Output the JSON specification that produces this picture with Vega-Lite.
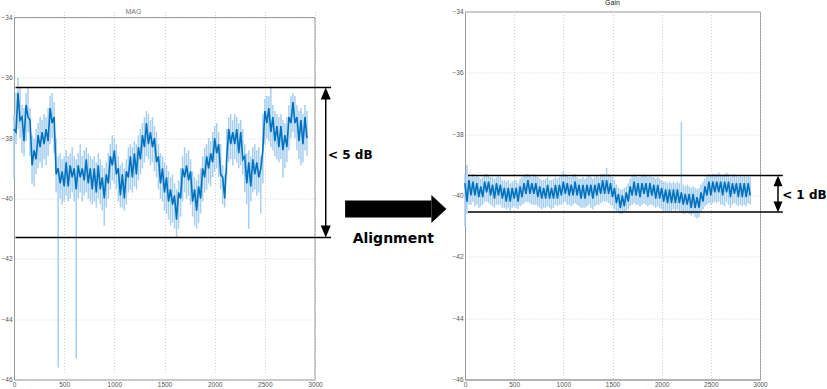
{
"$schema":"https://vega.github.io/schema/vega-lite/v6.json",
"background":"white",
"padding":{"left":0,"top":-2.5,"right":0,"bottom":0},
"spacing":150,
"bounds":"flush",
"config":{
"view":{"stroke":"#9a9a9a","strokeWidth":1},
"axis":{"labelFont":"Liberation Sans","labelFontSize":6.5,"labelColor":"#555","domainColor":"#9a9a9a","ticks":false,"gridColor":"#c4c4c4","gridDash":[1,2],"gridWidth":0.8,"labelPadding":2,"format":"d"},
"title":{"font":"Liberation Sans","fontSize":7,"fontWeight":"normal"}
},
"datasets":{
"mag":[
{"x":0,"v":-37.7,"lo":-39.3,"hi":-37.2},{"x":20,"v":-37.8,"lo":-38.2,"hi":-36.5},{"x":40,"v":-36.5,"lo":-37.7,"hi":-36.0},{"x":60,"v":-37.4,"lo":-38.0,"hi":-36.3},{"x":80,"v":-37.3,"lo":-38.5,"hi":-36.9},{"x":100,"v":-38.1,"lo":-38.6,"hi":-37.0},{"x":120,"v":-36.9,"lo":-38.1,"hi":-36.5},{"x":140,"v":-37.3,"lo":-37.8,"hi":-36.3},{"x":160,"v":-37.4,"lo":-38.6,"hi":-37.0},{"x":180,"v":-38.9,"lo":-39.5,"hi":-37.9},
{"x":200,"v":-38.4,"lo":-39.6,"hi":-38.0},{"x":220,"v":-38.7,"lo":-39.2,"hi":-37.7},{"x":240,"v":-37.9,"lo":-39.0,"hi":-37.5},{"x":260,"v":-38.3,"lo":-38.8,"hi":-37.3},{"x":280,"v":-37.8,"lo":-39.0,"hi":-37.4},{"x":300,"v":-38.2,"lo":-38.7,"hi":-37.2},{"x":320,"v":-37.7,"lo":-38.9,"hi":-37.3},{"x":340,"v":-38.1,"lo":-38.6,"hi":-37.0},{"x":360,"v":-37.0,"lo":-38.2,"hi":-36.6},{"x":380,"v":-37.5,"lo":-38.0,"hi":-36.5},
{"x":400,"v":-37.3,"lo":-38.5,"hi":-36.8},{"x":420,"v":-39.2,"lo":-39.8,"hi":-38.0},{"x":440,"v":-39.0,"lo":-45.6,"hi":-38.6},{"x":460,"v":-39.5,"lo":-40.0,"hi":-38.5},{"x":480,"v":-39.1,"lo":-40.2,"hi":-38.7},{"x":500,"v":-39.6,"lo":-40.1,"hi":-38.6},{"x":520,"v":-38.8,"lo":-39.9,"hi":-38.4},{"x":540,"v":-39.6,"lo":-40.1,"hi":-38.6},{"x":560,"v":-38.9,"lo":-40.0,"hi":-38.5},{"x":580,"v":-39.3,"lo":-39.8,"hi":-38.3},
{"x":600,"v":-39.0,"lo":-40.1,"hi":-38.6},{"x":620,"v":-39.7,"lo":-45.3,"hi":-38.7},{"x":640,"v":-38.9,"lo":-40.0,"hi":-38.5},{"x":660,"v":-39.3,"lo":-39.8,"hi":-38.2},{"x":680,"v":-39.0,"lo":-40.1,"hi":-38.6},{"x":700,"v":-39.4,"lo":-39.9,"hi":-38.4},{"x":720,"v":-38.7,"lo":-39.8,"hi":-38.3},{"x":740,"v":-39.5,"lo":-40.0,"hi":-38.5},{"x":760,"v":-39.0,"lo":-40.1,"hi":-38.6},{"x":780,"v":-39.7,"lo":-40.2,"hi":-38.7},
{"x":800,"v":-39.0,"lo":-40.1,"hi":-38.6},{"x":820,"v":-39.8,"lo":-40.3,"hi":-38.8},{"x":840,"v":-38.9,"lo":-40.0,"hi":-38.5},{"x":860,"v":-39.7,"lo":-40.2,"hi":-38.7},{"x":880,"v":-39.3,"lo":-40.4,"hi":-38.9},{"x":900,"v":-40.0,"lo":-40.9,"hi":-39.0},{"x":920,"v":-39.2,"lo":-40.3,"hi":-38.8},{"x":940,"v":-39.5,"lo":-40.0,"hi":-38.5},{"x":960,"v":-38.6,"lo":-39.7,"hi":-38.2},{"x":980,"v":-38.9,"lo":-39.4,"hi":-37.9},
{"x":1000,"v":-38.4,"lo":-39.5,"hi":-38.0},{"x":1020,"v":-39.2,"lo":-39.7,"hi":-38.2},{"x":1040,"v":-39.0,"lo":-40.1,"hi":-38.6},{"x":1060,"v":-39.9,"lo":-40.3,"hi":-38.9},{"x":1080,"v":-39.2,"lo":-40.3,"hi":-38.8},{"x":1100,"v":-40.0,"lo":-40.4,"hi":-39.0},{"x":1120,"v":-39.1,"lo":-40.2,"hi":-38.7},{"x":1140,"v":-39.3,"lo":-39.8,"hi":-38.3},{"x":1160,"v":-38.6,"lo":-39.7,"hi":-38.2},{"x":1180,"v":-39.3,"lo":-39.8,"hi":-38.3},
{"x":1200,"v":-38.5,"lo":-39.6,"hi":-38.1},{"x":1220,"v":-39.2,"lo":-39.7,"hi":-38.2},{"x":1240,"v":-38.3,"lo":-39.4,"hi":-37.9},{"x":1260,"v":-38.7,"lo":-39.2,"hi":-37.7},{"x":1280,"v":-37.9,"lo":-39.0,"hi":-37.5},{"x":1300,"v":-38.3,"lo":-38.8,"hi":-37.3},{"x":1320,"v":-37.5,"lo":-38.6,"hi":-37.1},{"x":1340,"v":-38.2,"lo":-38.7,"hi":-37.2},{"x":1360,"v":-37.8,"lo":-38.9,"hi":-37.4},{"x":1380,"v":-38.3,"lo":-38.8,"hi":-37.3},
{"x":1400,"v":-38.0,"lo":-39.1,"hi":-37.6},{"x":1420,"v":-38.8,"lo":-39.3,"hi":-37.8},{"x":1440,"v":-38.6,"lo":-39.7,"hi":-38.2},{"x":1460,"v":-39.5,"lo":-40.0,"hi":-38.5},{"x":1480,"v":-39.0,"lo":-40.1,"hi":-38.6},{"x":1500,"v":-39.8,"lo":-40.4,"hi":-38.8},{"x":1520,"v":-39.3,"lo":-40.5,"hi":-38.9},{"x":1540,"v":-40.1,"lo":-40.7,"hi":-39.1},{"x":1560,"v":-39.7,"lo":-40.9,"hi":-39.3},{"x":1580,"v":-40.2,"lo":-40.8,"hi":-39.2},
{"x":1600,"v":-39.9,"lo":-41.0,"hi":-39.5},{"x":1620,"v":-40.7,"lo":-41.3,"hi":-39.7},{"x":1640,"v":-39.8,"lo":-41.0,"hi":-39.4},{"x":1660,"v":-40.0,"lo":-40.6,"hi":-39.0},{"x":1680,"v":-39.0,"lo":-40.1,"hi":-38.6},{"x":1700,"v":-39.3,"lo":-39.8,"hi":-38.3},{"x":1720,"v":-38.9,"lo":-40.0,"hi":-38.5},{"x":1740,"v":-39.4,"lo":-39.9,"hi":-38.4},{"x":1760,"v":-39.1,"lo":-40.2,"hi":-38.7},{"x":1780,"v":-40.1,"lo":-40.6,"hi":-39.1},
{"x":1800,"v":-39.7,"lo":-40.9,"hi":-39.3},{"x":1820,"v":-40.4,"lo":-41.0,"hi":-39.4},{"x":1840,"v":-39.6,"lo":-40.8,"hi":-39.2},{"x":1860,"v":-40.0,"lo":-40.5,"hi":-39.0},{"x":1880,"v":-39.0,"lo":-40.1,"hi":-38.6},{"x":1900,"v":-39.3,"lo":-39.8,"hi":-38.3},{"x":1920,"v":-38.6,"lo":-39.7,"hi":-38.2},{"x":1940,"v":-39.0,"lo":-39.5,"hi":-38.0},{"x":1960,"v":-38.5,"lo":-39.6,"hi":-38.1},{"x":1980,"v":-38.8,"lo":-39.3,"hi":-37.8},
{"x":2000,"v":-38.0,"lo":-39.1,"hi":-37.6},{"x":2020,"v":-38.5,"lo":-39.0,"hi":-37.5},{"x":2040,"v":-38.2,"lo":-39.3,"hi":-37.8},{"x":2060,"v":-39.2,"lo":-39.7,"hi":-38.2},{"x":2080,"v":-39.3,"lo":-40.2,"hi":-38.9},{"x":2100,"v":-40.0,"lo":-40.3,"hi":-39.2},{"x":2120,"v":-38.7,"lo":-39.2,"hi":-37.7},{"x":2140,"v":-37.7,"lo":-38.8,"hi":-37.3},{"x":2160,"v":-38.2,"lo":-38.7,"hi":-37.2},{"x":2180,"v":-37.8,"lo":-38.9,"hi":-37.4},
{"x":2200,"v":-38.2,"lo":-38.7,"hi":-37.2},{"x":2220,"v":-37.7,"lo":-38.8,"hi":-37.3},{"x":2240,"v":-38.5,"lo":-39.0,"hi":-37.5},{"x":2260,"v":-37.8,"lo":-38.9,"hi":-37.4},{"x":2280,"v":-38.7,"lo":-39.2,"hi":-37.7},{"x":2300,"v":-38.6,"lo":-39.8,"hi":-38.2},{"x":2320,"v":-39.5,"lo":-40.2,"hi":-38.5},{"x":2340,"v":-38.8,"lo":-41.0,"hi":-38.4},{"x":2360,"v":-39.6,"lo":-40.1,"hi":-38.6},{"x":2380,"v":-38.7,"lo":-39.8,"hi":-38.3},
{"x":2400,"v":-39.2,"lo":-39.7,"hi":-38.2},{"x":2420,"v":-38.8,"lo":-39.9,"hi":-38.4},{"x":2440,"v":-39.3,"lo":-39.8,"hi":-38.3},{"x":2460,"v":-39.0,"lo":-40.5,"hi":-38.6},{"x":2480,"v":-38.4,"lo":-39.5,"hi":-37.2},{"x":2500,"v":-37.1,"lo":-38.2,"hi":-36.7},{"x":2520,"v":-37.5,"lo":-38.0,"hi":-36.6},{"x":2540,"v":-37.0,"lo":-38.1,"hi":-36.6},{"x":2560,"v":-37.8,"lo":-38.3,"hi":-36.3},{"x":2580,"v":-37.3,"lo":-38.4,"hi":-36.9},
{"x":2600,"v":-38.1,"lo":-38.6,"hi":-37.1},{"x":2620,"v":-37.6,"lo":-38.7,"hi":-37.2},{"x":2640,"v":-38.3,"lo":-38.8,"hi":-37.3},{"x":2660,"v":-37.6,"lo":-38.7,"hi":-37.2},{"x":2680,"v":-38.4,"lo":-39.3,"hi":-37.4},{"x":2700,"v":-37.9,"lo":-39.0,"hi":-37.5},{"x":2720,"v":-38.3,"lo":-38.8,"hi":-37.3},{"x":2740,"v":-37.3,"lo":-38.4,"hi":-36.9},{"x":2760,"v":-37.5,"lo":-38.0,"hi":-36.6},{"x":2780,"v":-36.8,"lo":-37.8,"hi":-36.5},
{"x":2800,"v":-37.5,"lo":-38.0,"hi":-36.6},{"x":2820,"v":-37.3,"lo":-38.4,"hi":-36.9},{"x":2840,"v":-38.1,"lo":-38.7,"hi":-37.1},{"x":2860,"v":-37.4,"lo":-38.9,"hi":-37.0},{"x":2880,"v":-38.2,"lo":-38.8,"hi":-37.2},{"x":2900,"v":-37.3,"lo":-38.4,"hi":-36.9},{"x":2920,"v":-38.0,"lo":-38.6,"hi":-37.1}
],
"gain":[
{"x":0,"v":-39.6,"lo":-41.0,"hi":-39.3},{"x":20,"v":-40.2,"lo":-40.6,"hi":-39.0},{"x":40,"v":-39.5,"lo":-40.3,"hi":-39.3},{"x":60,"v":-40.0,"lo":-40.3,"hi":-39.4},{"x":80,"v":-39.55,"lo":-40.2,"hi":-39.3},{"x":100,"v":-40.0,"lo":-40.35,"hi":-39.4},{"x":120,"v":-39.6,"lo":-40.3,"hi":-39.35},{"x":140,"v":-40.05,"lo":-40.4,"hi":-39.4},{"x":160,"v":-39.7,"lo":-40.35,"hi":-39.45},{"x":180,"v":-40.05,"lo":-40.3,"hi":-39.4},
{"x":200,"v":-39.55,"lo":-40.2,"hi":-39.3},{"x":220,"v":-39.9,"lo":-40.2,"hi":-39.3},{"x":240,"v":-39.55,"lo":-40.25,"hi":-39.35},{"x":260,"v":-40.0,"lo":-40.3,"hi":-39.4},{"x":280,"v":-39.65,"lo":-40.35,"hi":-39.4},{"x":300,"v":-40.1,"lo":-40.4,"hi":-39.45},{"x":320,"v":-39.6,"lo":-40.3,"hi":-39.4},{"x":340,"v":-40.0,"lo":-40.3,"hi":-39.35},{"x":360,"v":-39.65,"lo":-40.3,"hi":-39.4},{"x":380,"v":-40.1,"lo":-40.4,"hi":-39.5},
{"x":400,"v":-39.75,"lo":-40.4,"hi":-39.5},{"x":420,"v":-40.2,"lo":-40.45,"hi":-39.55},{"x":440,"v":-39.75,"lo":-40.4,"hi":-39.5},{"x":460,"v":-40.2,"lo":-40.5,"hi":-39.6},{"x":480,"v":-39.75,"lo":-40.4,"hi":-39.55},{"x":500,"v":-40.1,"lo":-40.35,"hi":-39.5},{"x":520,"v":-39.75,"lo":-40.4,"hi":-39.5},{"x":540,"v":-40.2,"lo":-40.45,"hi":-39.6},{"x":560,"v":-39.7,"lo":-40.35,"hi":-39.45},{"x":580,"v":-40.05,"lo":-40.3,"hi":-39.4},
{"x":600,"v":-39.6,"lo":-40.25,"hi":-39.35},{"x":620,"v":-39.95,"lo":-40.2,"hi":-39.3},{"x":640,"v":-39.5,"lo":-40.2,"hi":-39.3},{"x":660,"v":-39.95,"lo":-40.25,"hi":-39.35},{"x":680,"v":-39.6,"lo":-40.3,"hi":-39.4},{"x":700,"v":-39.95,"lo":-40.3,"hi":-39.3},{"x":720,"v":-39.6,"lo":-40.3,"hi":-39.35},{"x":740,"v":-40.05,"lo":-40.35,"hi":-39.4},{"x":760,"v":-39.7,"lo":-40.4,"hi":-39.45},{"x":780,"v":-40.1,"lo":-40.45,"hi":-39.5},
{"x":800,"v":-39.75,"lo":-40.4,"hi":-39.5},{"x":820,"v":-40.1,"lo":-40.4,"hi":-39.45},{"x":840,"v":-39.65,"lo":-40.35,"hi":-39.4},{"x":860,"v":-40.1,"lo":-40.4,"hi":-39.5},{"x":880,"v":-39.75,"lo":-40.45,"hi":-39.5},{"x":900,"v":-40.1,"lo":-40.4,"hi":-39.45},{"x":920,"v":-39.65,"lo":-40.3,"hi":-39.4},{"x":940,"v":-40.1,"lo":-40.35,"hi":-39.45},{"x":960,"v":-39.65,"lo":-40.3,"hi":-39.4},{"x":980,"v":-40.0,"lo":-40.3,"hi":-39.35},
{"x":1000,"v":-39.55,"lo":-40.25,"hi":-39.2},{"x":1020,"v":-39.95,"lo":-40.2,"hi":-39.3},{"x":1040,"v":-39.6,"lo":-40.3,"hi":-39.35},{"x":1060,"v":-40.0,"lo":-40.3,"hi":-39.4},{"x":1080,"v":-39.65,"lo":-40.35,"hi":-39.4},{"x":1100,"v":-40.0,"lo":-40.3,"hi":-39.35},{"x":1120,"v":-39.55,"lo":-40.25,"hi":-39.3},{"x":1140,"v":-40.0,"lo":-40.3,"hi":-39.4},{"x":1160,"v":-39.65,"lo":-40.35,"hi":-39.45},{"x":1180,"v":-40.1,"lo":-40.4,"hi":-39.45},
{"x":1200,"v":-39.65,"lo":-40.4,"hi":-39.4},{"x":1220,"v":-40.1,"lo":-40.4,"hi":-39.45},{"x":1240,"v":-39.65,"lo":-40.35,"hi":-39.4},{"x":1260,"v":-40.0,"lo":-40.3,"hi":-39.35},{"x":1280,"v":-39.65,"lo":-40.4,"hi":-39.4},{"x":1300,"v":-40.1,"lo":-40.45,"hi":-39.45},{"x":1320,"v":-39.65,"lo":-40.35,"hi":-39.4},{"x":1340,"v":-40.0,"lo":-40.3,"hi":-39.35},{"x":1360,"v":-39.6,"lo":-40.3,"hi":-39.4},{"x":1380,"v":-39.95,"lo":-40.25,"hi":-39.3},
{"x":1400,"v":-39.5,"lo":-40.2,"hi":-39.3},{"x":1420,"v":-39.95,"lo":-40.2,"hi":-39.3},{"x":1440,"v":-39.5,"lo":-40.2,"hi":-39.1},{"x":1460,"v":-39.95,"lo":-40.25,"hi":-39.3},{"x":1480,"v":-39.6,"lo":-40.3,"hi":-39.35},{"x":1500,"v":-40.05,"lo":-40.35,"hi":-39.4},{"x":1520,"v":-39.75,"lo":-40.45,"hi":-39.5},{"x":1540,"v":-40.25,"lo":-40.5,"hi":-39.65},{"x":1560,"v":-39.95,"lo":-40.55,"hi":-39.75},{"x":1580,"v":-40.4,"lo":-40.6,"hi":-39.8},
{"x":1600,"v":-40.0,"lo":-40.6,"hi":-39.8},{"x":1620,"v":-40.35,"lo":-40.55,"hi":-39.75},{"x":1640,"v":-39.9,"lo":-40.5,"hi":-39.7},{"x":1660,"v":-40.2,"lo":-40.45,"hi":-39.6},{"x":1680,"v":-39.7,"lo":-40.35,"hi":-39.45},{"x":1700,"v":-40.0,"lo":-40.3,"hi":-39.35},{"x":1720,"v":-39.55,"lo":-40.25,"hi":-39.3},{"x":1740,"v":-40.0,"lo":-40.3,"hi":-39.35},{"x":1760,"v":-39.6,"lo":-40.3,"hi":-39.4},{"x":1780,"v":-40.05,"lo":-40.35,"hi":-39.4},
{"x":1800,"v":-39.6,"lo":-40.3,"hi":-39.35},{"x":1820,"v":-39.95,"lo":-40.25,"hi":-39.3},{"x":1840,"v":-39.6,"lo":-40.3,"hi":-39.35},{"x":1860,"v":-40.05,"lo":-40.35,"hi":-39.4},{"x":1880,"v":-39.6,"lo":-40.3,"hi":-39.35},{"x":1900,"v":-40.0,"lo":-40.3,"hi":-39.4},{"x":1920,"v":-39.65,"lo":-40.35,"hi":-39.4},{"x":1940,"v":-40.1,"lo":-40.4,"hi":-39.45},{"x":1960,"v":-39.65,"lo":-40.35,"hi":-39.4},{"x":1980,"v":-40.1,"lo":-40.4,"hi":-39.45},
{"x":2000,"v":-39.75,"lo":-40.45,"hi":-39.5},{"x":2020,"v":-40.2,"lo":-40.5,"hi":-39.55},{"x":2040,"v":-39.8,"lo":-40.5,"hi":-39.55},{"x":2060,"v":-40.25,"lo":-40.5,"hi":-39.6},{"x":2080,"v":-39.8,"lo":-40.5,"hi":-39.55},{"x":2100,"v":-40.25,"lo":-40.55,"hi":-39.6},{"x":2120,"v":-39.8,"lo":-40.45,"hi":-39.55},{"x":2140,"v":-40.25,"lo":-40.5,"hi":-39.6},{"x":2160,"v":-39.8,"lo":-40.45,"hi":-39.55},{"x":2180,"v":-40.25,"lo":-40.5,"hi":-39.6},
{"x":2200,"v":-39.9,"lo":-40.55,"hi":-37.6},{"x":2220,"v":-40.3,"lo":-40.6,"hi":-39.65},{"x":2240,"v":-39.95,"lo":-40.6,"hi":-39.7},{"x":2260,"v":-40.3,"lo":-40.55,"hi":-39.65},{"x":2280,"v":-39.95,"lo":-40.6,"hi":-39.7},{"x":2300,"v":-40.4,"lo":-40.65,"hi":-39.75},{"x":2320,"v":-39.95,"lo":-40.6,"hi":-39.7},{"x":2340,"v":-40.4,"lo":-40.7,"hi":-39.75},{"x":2360,"v":-40.05,"lo":-40.75,"hi":-39.8},{"x":2380,"v":-40.4,"lo":-40.7,"hi":-39.75},
{"x":2400,"v":-39.9,"lo":-40.55,"hi":-39.65},{"x":2420,"v":-40.2,"lo":-40.45,"hi":-39.55},{"x":2440,"v":-39.7,"lo":-40.35,"hi":-39.45},{"x":2460,"v":-40.0,"lo":-40.3,"hi":-39.35},{"x":2480,"v":-39.55,"lo":-40.25,"hi":-39.3},{"x":2500,"v":-40.0,"lo":-40.3,"hi":-39.35},{"x":2520,"v":-39.55,"lo":-40.25,"hi":-39.3},{"x":2540,"v":-39.9,"lo":-40.2,"hi":-39.3},{"x":2560,"v":-39.55,"lo":-40.25,"hi":-39.3},{"x":2580,"v":-39.9,"lo":-40.2,"hi":-39.25},
{"x":2600,"v":-39.55,"lo":-40.3,"hi":-39.3},{"x":2620,"v":-40.0,"lo":-40.3,"hi":-39.35},{"x":2640,"v":-39.55,"lo":-40.35,"hi":-39.3},{"x":2660,"v":-39.9,"lo":-40.2,"hi":-39.25},{"x":2680,"v":-39.55,"lo":-40.3,"hi":-39.3},{"x":2700,"v":-40.05,"lo":-40.4,"hi":-39.4},{"x":2720,"v":-39.6,"lo":-40.3,"hi":-39.35},{"x":2740,"v":-39.95,"lo":-40.25,"hi":-39.3},{"x":2760,"v":-39.6,"lo":-40.3,"hi":-39.35},{"x":2780,"v":-40.05,"lo":-40.35,"hi":-39.4},
{"x":2800,"v":-39.6,"lo":-40.3,"hi":-39.35},{"x":2820,"v":-40.05,"lo":-40.35,"hi":-39.4},{"x":2840,"v":-39.6,"lo":-40.3,"hi":-39.35},{"x":2860,"v":-40.05,"lo":-40.35,"hi":-39.4},{"x":2880,"v":-39.6,"lo":-40.25,"hi":-39.35},{"x":2900,"v":-40.0,"lo":-40.3,"hi":-39.4}
]
},
"hconcat":[
{
"width":301,"height":368,
"view":{"stroke":null},
"title":{"text":"MAG","offset":-3.7,"dx":-31,"color":"#777"},
"data":{"name":"mag"},
"layer":[
{"mark":{"type":"rule","color":"#a6cff0","strokeWidth":1.5},
"encoding":{
"x":{"field":"x","type":"quantitative","scale":{"domain":[0,3000],"nice":false,"zero":false},"axis":{"values":[0,500,1000,1500,2000,2500,3000],"title":null,"grid":true,"labelFlush":false}},
"y":{"field":"lo","type":"quantitative","scale":{"domain":[-46,-34],"range":[368,6],"nice":false,"zero":false},"axis":{"values":[-46,-44,-42,-40,-38,-36,-34],"title":null,"grid":true}},
"y2":{"field":"hi"}}},
{"mark":{"type":"line","color":"#0072BD","strokeWidth":1.6},
"encoding":{"x":{"field":"x","type":"quantitative"},"y":{"field":"v","type":"quantitative"}}},
{"data":{"values":[{}]},"mark":{"type":"rule","color":"#9a9a9a","strokeWidth":1},
"encoding":{"x":{"datum":0},"x2":{"datum":3000},"y":{"datum":-34}}},
{"data":{"values":[{}]},"mark":{"type":"rule","color":"#9a9a9a","strokeWidth":1},
"encoding":{"x":{"datum":3000},"y":{"datum":-46},"y2":{"datum":-34}}},
{"data":{"values":[{}]},"mark":{"type":"rule","color":"black","strokeWidth":1.5},
"encoding":{"x":{"datum":15},"x2":{"datum":3160},"y":{"datum":-36.32}}},
{"data":{"values":[{}]},"mark":{"type":"rule","color":"black","strokeWidth":1.5},
"encoding":{"x":{"datum":15},"x2":{"datum":3160},"y":{"datum":-41.29}}},
{"data":{"values":[{}]},"mark":{"type":"rule","color":"black","strokeWidth":1.5},
"encoding":{"x":{"datum":3107},"y":{"datum":-36.52},"y2":{"datum":-41.09}}},
{"data":{"values":[{}]},"mark":{"type":"point","filled":true,"color":"black","opacity":1,"size":144,"shape":"M0,-1L0.833,1L-0.833,1Z"},
"encoding":{"x":{"datum":3107},"y":{"datum":-36.52}}},
{"data":{"values":[{}]},"mark":{"type":"point","filled":true,"color":"black","opacity":1,"size":144,"shape":"M0,1L0.833,-1L-0.833,-1Z"},
"encoding":{"x":{"datum":3107},"y":{"datum":-41.09}}},
{"data":{"values":[{}]},"mark":{"type":"text","text":"< 5 dB","align":"left","baseline":"middle","font":"DejaVu Sans","fontWeight":"bold","fontSize":12,"color":"black"},
"encoding":{"x":{"datum":3130},"y":{"datum":-38.57}}},
{"data":{"values":[{}]},"mark":{"type":"rule","color":"black","strokeWidth":17,"strokeCap":"butt"},
"encoding":{"x":{"datum":3300},"x2":{"datum":4160},"y":{"datum":-40.35}}},
{"data":{"values":[{}]},"mark":{"type":"point","filled":true,"color":"black","opacity":1,"size":784,"shape":"M0,-1L1.07,0L0,1Z"},
"encoding":{"x":{"datum":4160},"y":{"datum":-40.35}}},
{"data":{"values":[{}]},"mark":{"type":"text","text":"Alignment","align":"center","baseline":"alphabetic","font":"DejaVu Sans","fontWeight":"bold","fontSize":14,"color":"black"},
"encoding":{"x":{"datum":3780},"y":{"datum":-41.46}}}
]
},
{
"width":295,"height":368,
"title":{"text":"Gain","offset":3,"color":"#222"},
"data":{"name":"gain"},
"layer":[
{"mark":{"type":"rule","color":"#a6cff0","strokeWidth":1.5},
"encoding":{
"x":{"field":"x","type":"quantitative","scale":{"domain":[0,3000],"nice":false,"zero":false},"axis":{"values":[0,500,1000,1500,2000,2500,3000],"title":null,"grid":true,"labelFlush":false}},
"y":{"field":"lo","type":"quantitative","scale":{"domain":[-46,-34],"nice":false,"zero":false},"axis":{"values":[-46,-44,-42,-40,-38,-36,-34],"title":null,"grid":true}},
"y2":{"field":"hi"}}},
{"mark":{"type":"line","color":"#0072BD","strokeWidth":1.6},
"encoding":{"x":{"field":"x","type":"quantitative"},"y":{"field":"v","type":"quantitative"}}},
{"data":{"values":[{}]},"mark":{"type":"rule","color":"black","strokeWidth":1.5},
"encoding":{"x":{"datum":30},"x2":{"datum":3232},"y":{"datum":-39.35}}},
{"data":{"values":[{}]},"mark":{"type":"rule","color":"black","strokeWidth":1.5},
"encoding":{"x":{"datum":30},"x2":{"datum":3232},"y":{"datum":-40.54}}},
{"data":{"values":[{}]},"mark":{"type":"rule","color":"black","strokeWidth":1.5},
"encoding":{"x":{"datum":3183},"y":{"datum":-39.52},"y2":{"datum":-40.37}}},
{"data":{"values":[{}]},"mark":{"type":"point","filled":true,"color":"black","opacity":1,"size":115,"shape":"M0,-1L0.84,1L-0.84,1Z"},
"encoding":{"x":{"datum":3183},"y":{"datum":-39.52}}},
{"data":{"values":[{}]},"mark":{"type":"point","filled":true,"color":"black","opacity":1,"size":115,"shape":"M0,1L0.84,-1L-0.84,-1Z"},
"encoding":{"x":{"datum":3183},"y":{"datum":-40.37}}},
{"data":{"values":[{}]},"mark":{"type":"text","text":"< 1 dB","align":"left","baseline":"middle","font":"DejaVu Sans","fontWeight":"bold","fontSize":12,"color":"black"},
"encoding":{"x":{"datum":3225},"y":{"datum":-39.97}}}
]
}
]
}
